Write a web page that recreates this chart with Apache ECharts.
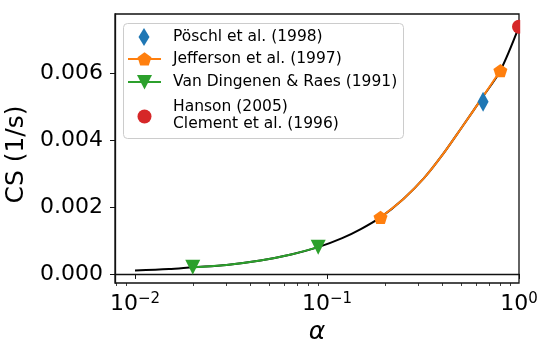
<!DOCTYPE html>
<html>
<head>
<meta charset="utf-8">
<script src="https://cdn.jsdelivr.net/npm/echarts@6/dist/echarts.min.js"></script>
<style>
html,body{margin:0;padding:0;background:#fff;}
#chart{width:541px;height:340px;}
</style>
</head>
<body>
<div id="chart"></div>
<script>
// ---- data ----
const curveAlpha = [0.01, 0.015, 0.02, 0.03, 0.045, 0.065, 0.09, 0.12, 0.15, 0.19, 0.25, 0.32, 0.4, 0.5, 0.65, 0.8, 1.0];
const curveCS    = [0.0001, 0.000145, 0.0002, 0.00027, 0.0004, 0.00058, 0.0008, 0.00107, 0.00134, 0.00169, 0.00224, 0.00286, 0.00356, 0.00435, 0.0053, 0.00607, 0.00738];

const vdrLineAlpha = [0.02, 0.03, 0.045, 0.065, 0.09];
const vdrLineCS    = [0.0002, 0.00027, 0.0004, 0.00058, 0.0008];
const jeffLineAlpha = [0.19, 0.25, 0.32, 0.4, 0.5, 0.65, 0.8];
const jeffLineCS    = [0.00169, 0.00224, 0.00286, 0.00356, 0.00435, 0.0053, 0.00607];

const poschlAlpha = [0.65];
const poschlCS    = [0.00514];
const jeffAlpha   = [0.19, 0.8];
const jeffCS      = [0.00169, 0.00607];
const vdrAlpha    = [0.02, 0.09];
const vdrCS       = [0.0002, 0.0008];
const hansonAlpha = [1.0];
const hansonCS    = [0.00738];

const legendLabels = ['Pöschl et al. (1998)', 'Jefferson et al. (1997)', 'Van Dingenen & Raes (1991)', 'Hanson (2005)', 'Clement et al. (1996)'];
const xMajorTicks = [0.01, 0.1, 1];
const xMinorTicks = [0.008, 0.009, 0.02, 0.03, 0.04, 0.05, 0.06, 0.07, 0.08, 0.09, 0.2, 0.3, 0.4, 0.5, 0.6, 0.7, 0.8, 0.9];
const yTicks = [0, 0.002, 0.004, 0.006];

const pts = (xs, ys) => xs.map((x, i) => [x, ys[i]]);
const FONT = '"DejaVu Sans"';
const C = {blue:'#1f77b4', orange:'#ff7f0e', green:'#2ca02c', red:'#d62728'};
const PENT = 'path://M0,-1L0.951,-0.309L0.588,0.809L-0.588,0.809L-0.951,-0.309Z';

const chart = echarts.init(document.getElementById('chart'), null, {renderer:'canvas'});

function supLabel(v){
  const e = Math.round(Math.log10(v));
  return '{b|10}{s|' + (e < 0 ? '\u2212' + (-e) : e) + '}';
}

function pentPts(cx, cy, r){
  const a = [];
  for (let i = 0; i < 5; i++){
    const t = -Math.PI/2 + i*2*Math.PI/5;
    a.push([cx + r*Math.cos(t), cy + r*Math.sin(t)]);
  }
  return a;
}

function legText(t, x, y){
  return {type: 'text', z: 101, x: x, y: y,
    style: {text: t, font: '15.5px "DejaVu Sans"', fontFamily: FONT, fontSize: 15.5, fill: '#000',
            verticalAlign: 'middle', align: 'left'}};
}

chart.setOption({
  animation: false,
  backgroundColor: '#fff',
  textStyle: {fontFamily: FONT},
  grid: {left: 115, right: 22, top: 14, bottom: 57, outerBoundsMode: 'none', containLabel: false,
         show: true, borderColor: '#111', borderWidth: 1.3, backgroundColor: 'transparent'},
  xAxis: [{
    type: 'log', logBase: 10, min: 0.00787, max: 1,
    name: 'α', nameLocation: 'middle', nameGap: 35,
    nameTextStyle: {fontFamily: FONT, fontSize: 25, fontStyle: 'italic', color: '#000', lineHeight: 26},
    axisLine: {show: true, lineStyle: {color: '#111', width: 1.3}},
    axisTick: {show: true, length: 5, lineStyle: {color: '#111', width: 1}, customValues: xMajorTicks},
    axisLabel: {
      margin: 9, customValues: xMajorTicks, formatter: supLabel,
      rich: {
        b: {fontFamily: FONT, fontSize: 22, color: '#000', lineHeight: 24},
        s: {fontFamily: FONT, fontSize: 15, color: '#000', lineHeight: 10, verticalAlign: 'top'}
      }
    },
    splitLine: {show: false}
  }, {
    type: 'log', logBase: 10, min: 0.00787, max: 1, position: 'bottom',
    axisLine: {show: false},
    axisTick: {show: true, length: 3, lineStyle: {color: '#111', width: 0.8}, customValues: xMinorTicks},
    axisLabel: {show: false},
    splitLine: {show: false}
  }],
  yAxis: {
    type: 'value', min: -0.00027, max: 0.00776,
    name: 'CS (1/s)', nameLocation: 'middle', nameGap: 76,
    nameTextStyle: {fontFamily: FONT, fontSize: 25, color: '#000', padding: [0, 12, 0, 0]},
    axisLine: {show: true, lineStyle: {color: '#111', width: 1.3}},
    axisTick: {show: true, length: 5, lineStyle: {color: '#111', width: 1}, customValues: yTicks},
    axisLabel: {margin: 12, customValues: yTicks, fontFamily: FONT, fontSize: 22, color: '#000',
      formatter: v => v.toFixed(3)},
    splitLine: {show: false}
  },
  series: [
    {type: 'line', data: pts(curveAlpha, curveCS), smooth: 0.3, showSymbol: false, symbol: 'none',
     lineStyle: {color: '#000', width: 2}, z: 2},
    {type: 'line', data: pts(vdrLineAlpha, vdrLineCS), smooth: 0.3, showSymbol: false, symbol: 'none',
     lineStyle: {color: C.green, width: 2}, z: 3},
    {type: 'line', data: pts(jeffLineAlpha, jeffLineCS), smooth: 0.3, showSymbol: false, symbol: 'none',
     lineStyle: {color: C.orange, width: 2}, z: 3},
    {type: 'scatter', data: pts(vdrAlpha, vdrCS), symbol: 'triangle', symbolRotate: 180, symbolSize: 15,
     itemStyle: {color: C.green, opacity: 1}, z: 4},
    {type: 'scatter', data: pts(jeffAlpha, jeffCS), symbol: PENT, symbolKeepAspect: true, symbolSize: 14,
     itemStyle: {color: C.orange, opacity: 1}, z: 4},
    {type: 'scatter', data: pts(poschlAlpha, poschlCS), symbol: 'diamond', symbolSize: [11, 20],
     itemStyle: {color: C.blue, opacity: 1}, z: 4},
    {type: 'scatter', data: pts(hansonAlpha, hansonCS), symbol: 'circle', symbolSize: 14,
     itemStyle: {color: C.red, opacity: 1}, z: 4}
  ],
  graphic: [
    {type: 'rect', z: 50, shape: {x: 520.2, y: 0, width: 25, height: 282}, style: {fill: '#fff'}},
    {type: 'rect', z: 100, shape: {x: 123.5, y: 23.5, width: 280, height: 115, r: 4},
      style: {fill: 'rgba(255,255,255,0.85)', stroke: '#cccccc', lineWidth: 1}},
    {type: 'polygon', z: 101, shape: {points: [[138.5, 37], [144, 28], [149.5, 37], [144, 46]]}, style: {fill: C.blue}},
    legText(legendLabels[0], 173, 37),
    {type: 'line', z: 101, shape: {x1: 128, y1: 59, x2: 161, y2: 59}, style: {stroke: C.orange, lineWidth: 2}},
    {type: 'polygon', z: 102, shape: {points: pentPts(144.5, 59.5, 7.3)}, style: {fill: C.orange}},
    legText(legendLabels[1], 173, 59),
    {type: 'line', z: 101, shape: {x1: 128, y1: 82, x2: 161, y2: 82}, style: {stroke: C.green, lineWidth: 2}},
    {type: 'polygon', z: 102, shape: {points: [[137, 75], [152, 75], [144.5, 89.5]]}, style: {fill: C.green}},
    legText(legendLabels[2], 173, 82),
    {type: 'circle', z: 101, shape: {cx: 144.5, cy: 116.5, r: 7}, style: {fill: C.red}},
    legText(legendLabels[3], 173, 107),
    legText(legendLabels[4], 173, 124)
  ]
});
</script>
</body>
</html>
